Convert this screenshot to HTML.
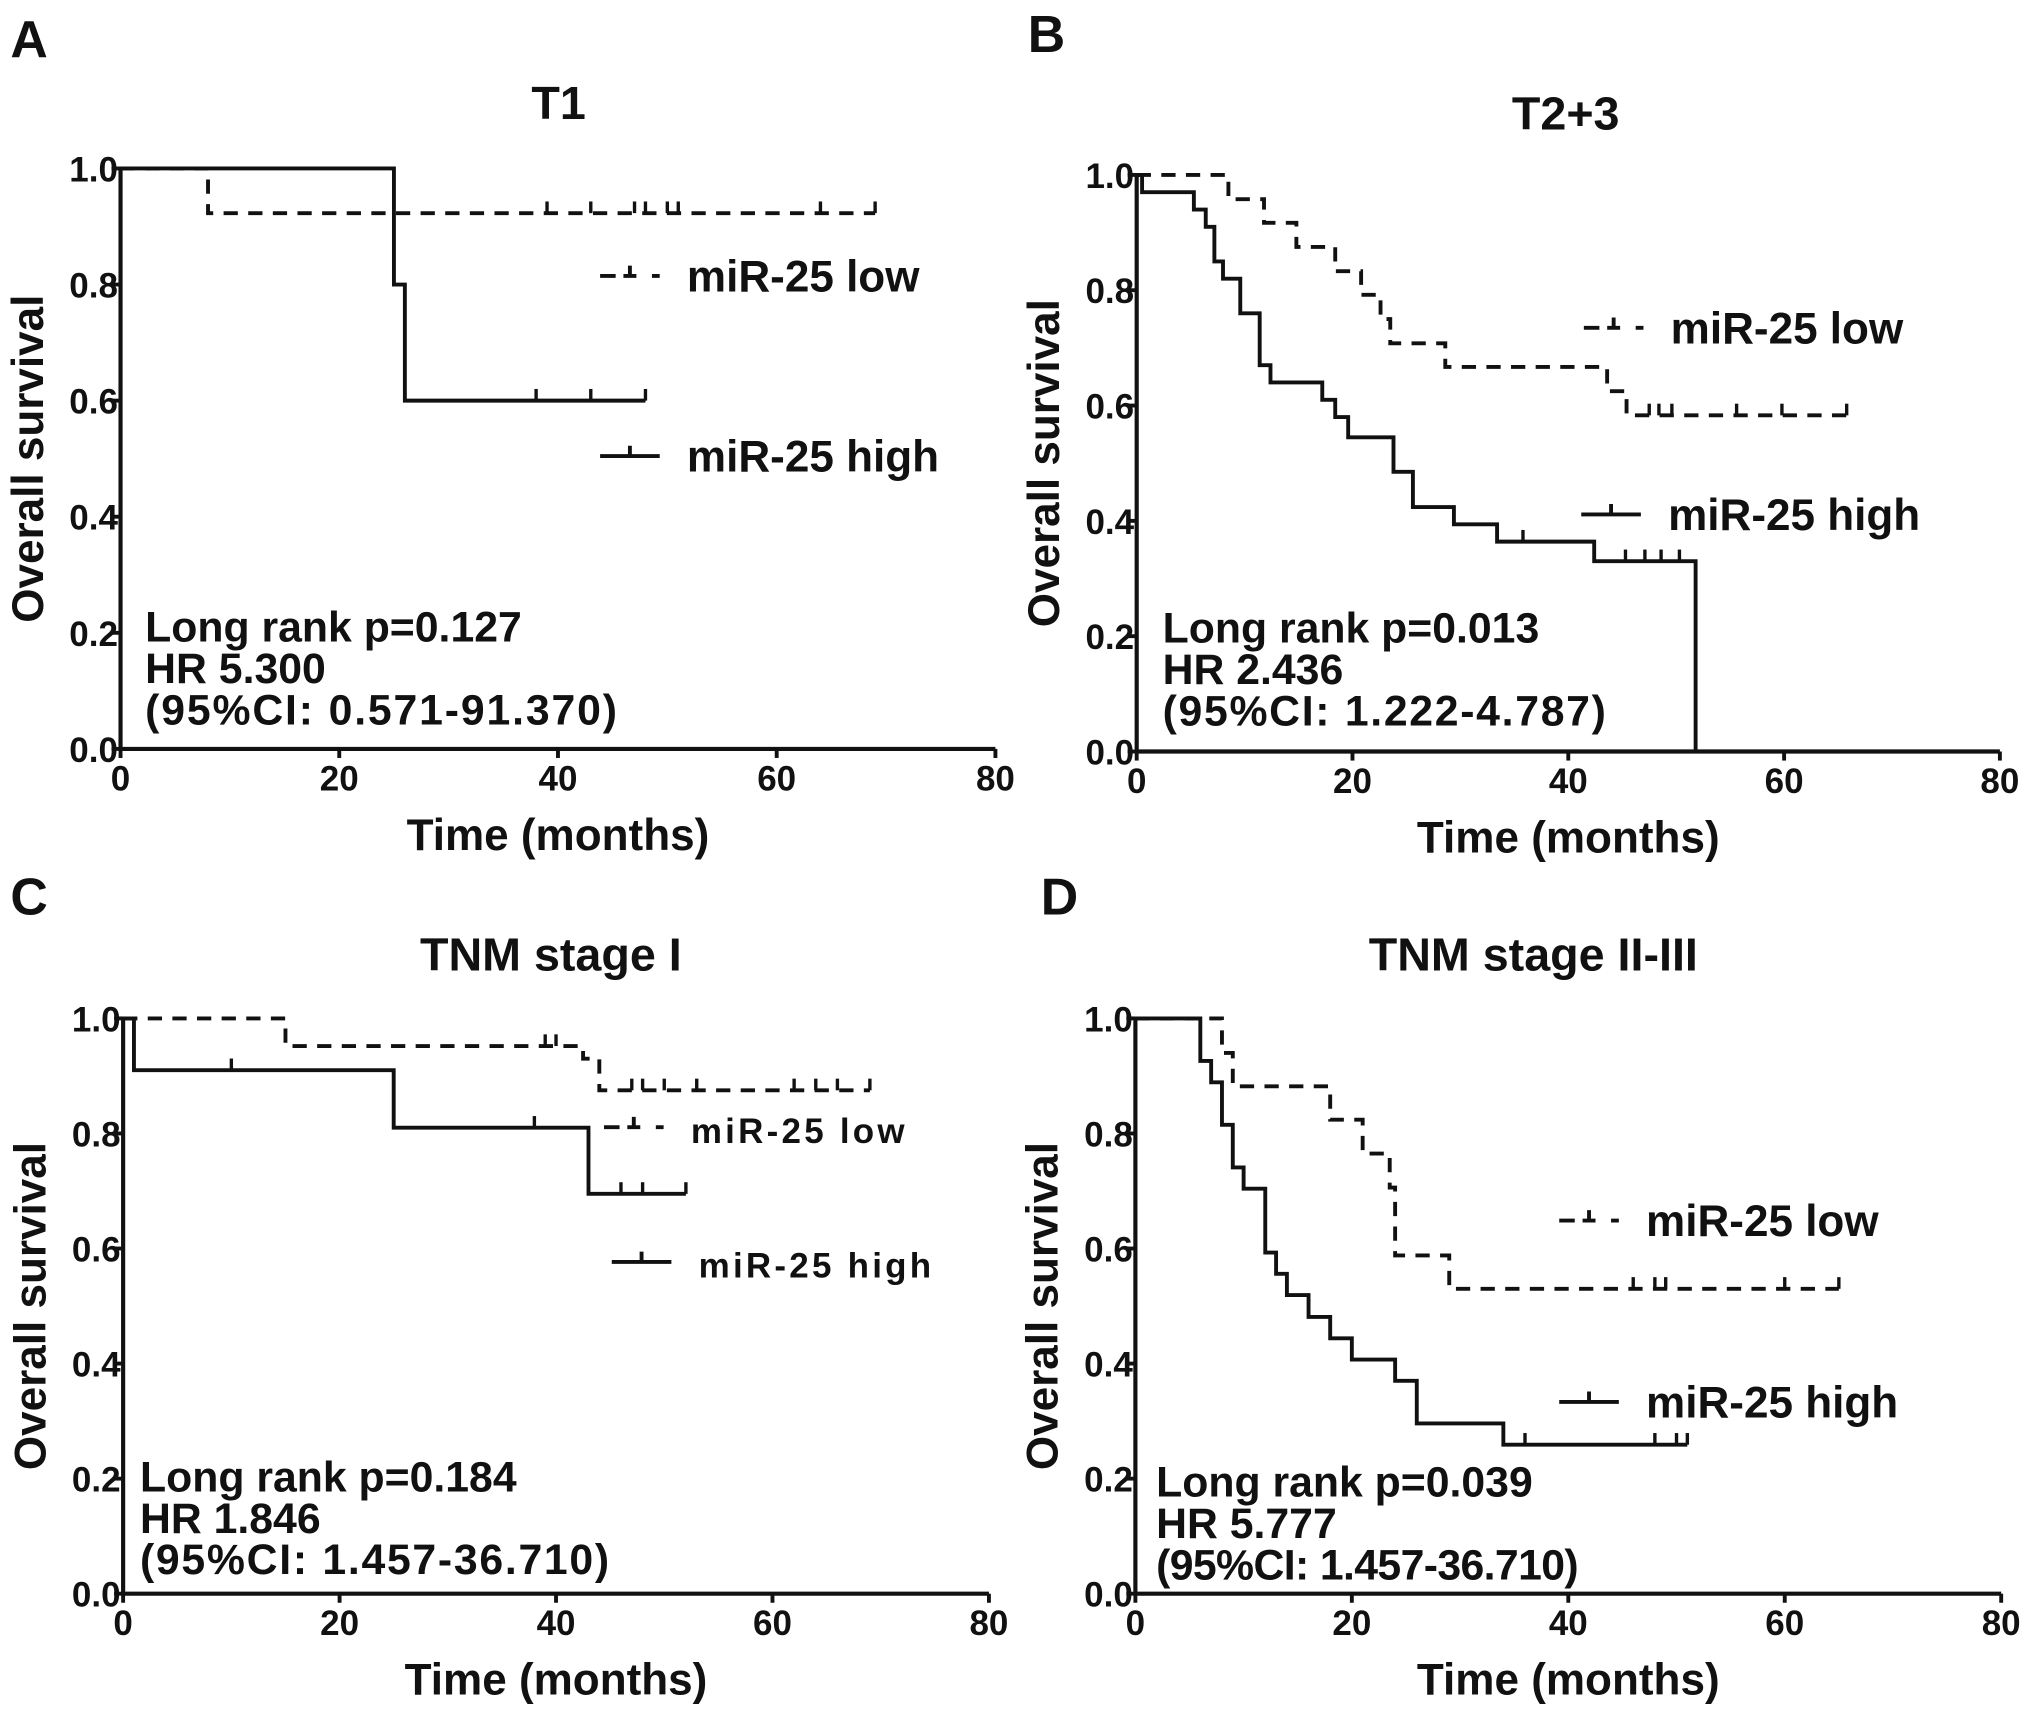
<!DOCTYPE html>
<html><head><meta charset="utf-8">
<style>
html,body{margin:0;padding:0;background:#fff;}
svg{display:block;}
text{font-family:"Liberation Sans",Arial,sans-serif;font-weight:bold;fill:#111;}
</style></head>
<body>
<svg id="fig" width="2031" height="1709" viewBox="0 0 1567 1319" preserveAspectRatio="none" xmlns="http://www.w3.org/2000/svg"></svg>
<script>
// ---- Data (months / survival) ----
const xTicks = [0, 20, 40, 60, 80];
const yTicks = [0.0, 0.2, 0.4, 0.6, 0.8, 1.0];
const yTickLabels = ["0.0", "0.2", "0.4", "0.6", "0.8", "1.0"];

const aLowT = [8];            const aLowS = [0.923];   const aLowEnd = 69;
const aLowCens = [39, 43, 47, 48, 50, 51, 64, 69];
const aHighT = [25, 26];      const aHighS = [0.8, 0.6]; const aHighEnd = 48;
const aHighCens = [38, 43, 48];

const bLowT = [8.5, 11.8, 14.8, 18.4, 20.8, 22.6, 23.5, 28.6, 43.6, 45.4];
const bLowS = [0.958, 0.917, 0.875, 0.833, 0.792, 0.75, 0.708, 0.667, 0.625, 0.583];
const bLowEnd = 65.8;
const bLowCens = [47.5, 48.4, 49.6, 55.6, 59.8, 65.8];
const bHighT = [0.5, 5.3, 6.4, 7.2, 8, 9.6, 11.4, 12.4, 17.2, 18.4, 19.6, 23.8, 25.6, 29.4, 33.4, 42.4, 51.8];
const bHighS = [0.97, 0.94, 0.91, 0.85, 0.82, 0.76, 0.67, 0.64, 0.61, 0.58, 0.545, 0.485, 0.424, 0.394, 0.364, 0.33, 0.0];
const bHighEnd = 51.8;
const bHighCens = [35.8, 45.3, 47.1, 48.6, 50.3];

const cLowT = [15, 42.5, 44];   const cLowS = [0.952, 0.93, 0.875]; const cLowEnd = 69;
const cLowCens = [39, 40, 47, 48, 50, 53, 62, 64, 66, 69];
const cHighT = [1, 25, 43];     const cHighS = [0.91, 0.81, 0.695]; const cHighEnd = 52;
const cHighCens = [10, 38, 46, 48, 52];

const dLowT = [8, 9, 18, 21, 23.5, 24, 29];
const dLowS = [0.94, 0.882, 0.824, 0.765, 0.706, 0.588, 0.53];
const dLowEnd = 65;
const dLowCens = [46, 48, 49, 60, 65];
const dHighT = [6, 7, 8, 9, 10, 12, 13, 14, 16, 18, 20, 24, 26, 34];
const dHighS = [0.926, 0.889, 0.815, 0.741, 0.704, 0.593, 0.556, 0.519, 0.481, 0.444, 0.407, 0.37, 0.296, 0.259];
const dHighEnd = 51;
const dHighCens = [36, 48, 50, 51];

const NS = "http://www.w3.org/2000/svg";
const svg = document.getElementById('fig');
function mk(tag, attrs, parent){
  const e = document.createElementNS(NS, tag);
  for (const k in attrs) e.setAttribute(k, attrs[k]);
  (parent||svg).appendChild(e); return e;
}
function txt(str, x, y, size, anchor, parent, extra){
  const t = mk('text', Object.assign({x:x, y:y, 'font-size':size, 'text-anchor':anchor||'start'}, extra||{}), parent);
  t.textContent = str; return t;
}

function panel(cfg){
  const g = mk('g', {});
  
  
  const sx = v => cfg.x0 + (cfg.x1 - cfg.x0) * v / 80;
  const sy = v => cfg.y0 + (cfg.y1 - cfg.y0) * (1 - v);
  const L = txt(cfg.letter, cfg.lx, cfg.ly, 40, 'start', g);
  
  
  const T = txt(cfg.title, cfg.tx, cfg.ty, 36, 'middle', g);
  
  
  const ax = mk('path', {d:`M${cfg.x0},${cfg.y0-1} V${cfg.y1} H${cfg.x1}`, fill:'none', stroke:'#111', 'stroke-width':3.2}, g);
  
  
  xTicks.forEach(v => {
    mk('line', {x1:sx(v), x2:sx(v), y1:cfg.y1, y2:cfg.y1+7, stroke:'#111','stroke-width':3}, g);
    const t = txt(String(v), sx(v), cfg.y1+32, 27, 'middle', g);
    
    
  });
  yTicks.forEach((v,i) => {
    mk('line', {x1:cfg.x0-7, x2:cfg.x0, y1:sy(v), y2:sy(v), stroke:'#111','stroke-width':3}, g);
    const t = txt(yTickLabels[i], cfg.x0-2, sy(v)+10, 27, 'end', g);
    
    
  });
  const xl = txt('Time (months)', (cfg.x0+cfg.x1)/2, cfg.y1+78, 34, 'middle', g);
  
  
  const yc = (cfg.y0+cfg.y1)/2;
  const yl = txt('Overall survival', 0, 0, 34, 'middle', g, {transform:`translate(${cfg.x0-60},${yc}) rotate(-90)`});
  
  
  function curve(T, S, end, cens, dashed, nm){
    let d = `M${sx(0)},${sy(1)}`;
    T.forEach((t,i) => { d += ` H${sx(t)} V${sy(S[i])}`; });
    d += ` H${sx(end)}`;
    const p = mk('path', {d:d, fill:'none', stroke:'#111', 'stroke-width':3, 'stroke-dasharray': dashed ? '11 8' : 'none'}, g);
    
    
    cens.forEach(c => {
      let s = 1;
      T.forEach((t,i) => { if (t <= c) s = S[i]; });
      const l = mk('line', {x1:sx(c), x2:sx(c), y1:sy(s), y2:sy(s)-9, stroke:'#111', 'stroke-width':2.6}, g);
      
      
    });
  }
  curve(cfg.lowT, cfg.lowS, cfg.lowEnd, cfg.lowC, true, 'mir25-low');
  curve(cfg.highT, cfg.highS, cfg.highEnd, cfg.highC, false, 'mir25-high');
  const lg = mk('g', {}, g);
  
  
  const [lx, ly, hx, hy, fs, ls] = cfg.leg;
  mk('path', {d:`M${lx},${ly} h12 M${lx+18},${ly} h10 M${lx+40},${ly} h6 M${lx+23},${ly} v-8`, stroke:'#111','stroke-width':3, fill:'none'}, lg);
  const t1 = txt('miR-25 low', lx+67, ly+12, fs, 'start', lg, {'letter-spacing':ls});
  
  
  mk('path', {d:`M${hx},${hy} h46 M${hx+23},${hy} v-8`, stroke:'#111','stroke-width':3, fill:'none'}, lg);
  const t2 = txt('miR-25 high', hx+67, hy+12, fs, 'start', lg, {'letter-spacing':ls});
  
  
  const st = mk('g', {}, g);
  
  
  cfg.stats.forEach((s,i) => {
    const e = txt(s, cfg.sx, cfg.sy + i*32, 33, 'start', st);
    if (i === 2) { e.setAttribute('textLength', cfg.ciLen); e.setAttribute('lengthAdjust', 'spacing'); }
  });
}

panel({name:'panel-a', letter:'A', lx:8, ly:44, title:'T1', tx:431, ty:92,
  x0:93, x1:768, y0:130, y1:578,
  lowT:aLowT, lowS:aLowS, lowEnd:aLowEnd, lowC:aLowCens,
  highT:aHighT, highS:aHighS, highEnd:aHighEnd, highC:aHighCens,
  leg:[463, 213, 463, 352, 34, 0], ciLen:364,
  stats:['Long rank p=0.127','HR 5.300','(95%CI: 0.571-91.370)'], sx:112, sy:495});
panel({name:'panel-b', letter:'B', lx:793, ly:40, title:'T2+3', tx:1208, ty:100,
  x0:877, x1:1543, y0:135, y1:580,
  lowT:bLowT, lowS:bLowS, lowEnd:bLowEnd, lowC:bLowCens,
  highT:bHighT, highS:bHighS, highEnd:bHighEnd, highC:bHighCens,
  leg:[1222, 253, 1220, 397, 34, 0], ciLen:342,
  stats:['Long rank  p=0.013','HR 2.436','(95%CI: 1.222-4.787)'], sx:897, sy:496});
panel({name:'panel-c', letter:'C', lx:8, ly:706, title:'TNM stage I', tx:425, ty:749,
  x0:95, x1:763, y0:786, y1:1230,
  lowT:cLowT, lowS:cLowS, lowEnd:cLowEnd, lowC:cLowCens,
  highT:cHighT, highS:cHighS, highEnd:cHighEnd, highC:cHighCens,
  leg:[466, 870, 472, 974, 27, 2.5], ciLen:362,
  stats:['Long rank p=0.184','HR 1.846','(95%CI: 1.457-36.710)'], sx:108, sy:1151});
panel({name:'panel-d', letter:'D', lx:803, ly:706, title:'TNM stage II-III', tx:1183, ty:749,
  x0:876, x1:1544, y0:786, y1:1230,
  lowT:dLowT, lowS:dLowS, lowEnd:dLowEnd, lowC:dLowCens,
  highT:dHighT, highS:dHighS, highEnd:dHighEnd, highC:dHighCens,
  leg:[1203, 942, 1203, 1082, 34, 0], ciLen:326,
  stats:['Long rank p=0.039','HR 5.777','(95%CI: 1.457-36.710)'], sx:892, sy:1155});
</script>
</body></html>
